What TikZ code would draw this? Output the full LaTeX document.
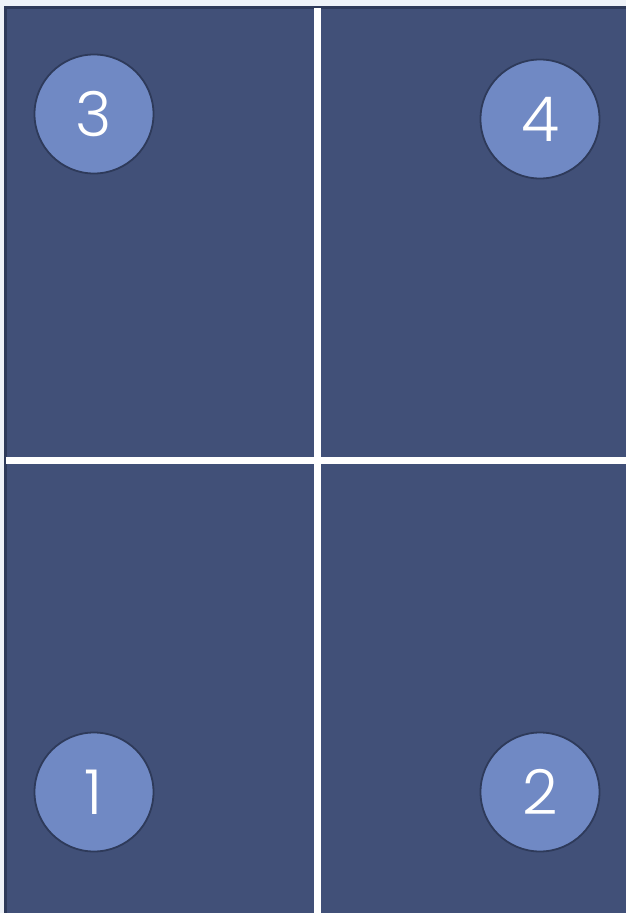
\documentclass[tikz,border=0pt]{standalone}
\usepackage{fontspec}
\setmainfont{Poppins Light}
\usetikzlibrary{positioning}
\definecolor{panelblue}{HTML}{415078}
\definecolor{edgeblue}{HTML}{2E3A5A}
\definecolor{badgeblue}{HTML}{7089C4}
\definecolor{paper}{HTML}{EEF2F8}

\begin{document}
\begin{tikzpicture}[
  x=1pt, y=-1pt,
  panel/.style={fill=panelblue, draw=none},
  badge/.style={circle, draw=edgeblue, line width=1.8pt, fill=badgeblue,
    minimum size=119pt, inner sep=0pt, text=white, font=\fontsize{62}{62}\selectfont},
  gap/.style={white, line width=7pt}
]
  % page and border
  \fill[paper] (0,0) rectangle (626,913);
  \useasboundingbox (0,0) rectangle (626,913);
  \fill[edgeblue] (4,6) rectangle (626,913);

  % four panels
  \fill[panel] (7,9) rectangle (626,913);
  \draw[gap] (317.5,8) -- (317.5,913);
  \draw[gap] (6,460.5) -- (626,460.5);

  % numbered badges
  \node[badge] (q3) at (94,114) {3};
  \node[badge] (q4) at (540,119) {4};
  \node[badge] (q1) at (94,792) {1};
  \node[badge] (q2) at (540,792) {2};
\end{tikzpicture}
\end{document}
